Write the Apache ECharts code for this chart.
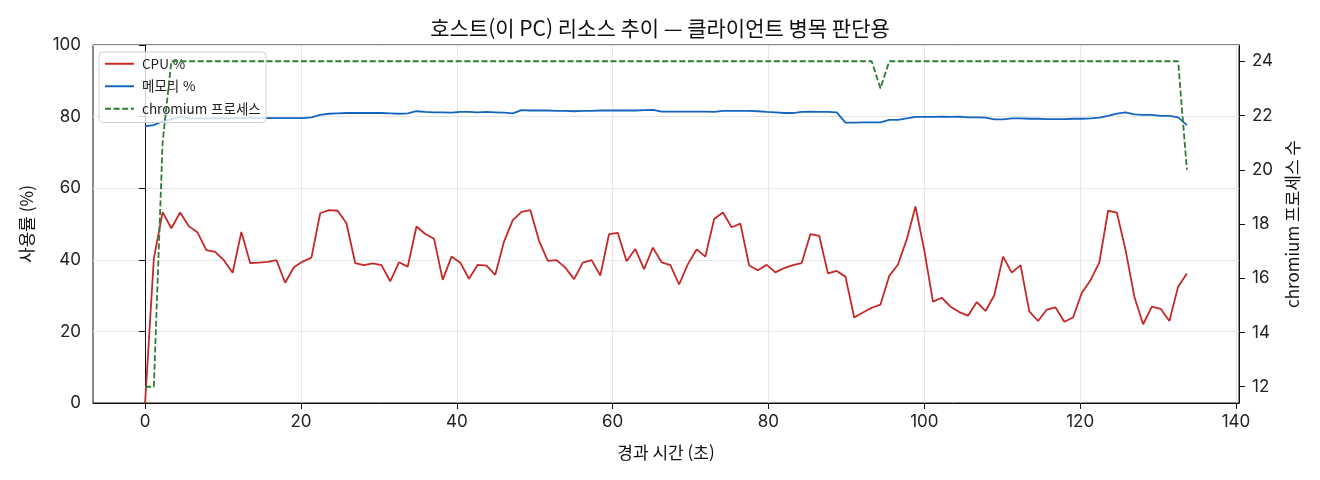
<!DOCTYPE html>
<html lang="ko">
<head>
<meta charset="utf-8">
<title>호스트(이 PC) 리소스 추이</title>
<script src="https://cdn.jsdelivr.net/npm/echarts@6/dist/echarts.min.js"></script>
<style>
  html, body { margin: 0; padding: 0; background: #fff; }
  #main { width: 1320px; height: 480px; }
</style>
</head>
<body>
<div id="main"></div>
<script>
// 샘플 간격(초) - 점 사이 간격에서 읽음
var SAMPLE_SEC = 1.1235;

var cpuPct = [
  0, 40.4, 53.3, 48.8, 53.2, 49.4, 47.6, 42.7, 42.2, 39.9,
  36.4, 47.8, 39.1, 39.2, 39.4, 39.9, 33.6, 37.9, 39.5, 40.6,
  53.0, 53.9, 53.7, 50.2, 39.1, 38.5, 39.0, 38.5, 34.0, 39.3,
  38.1, 49.3, 47.2, 45.9, 34.4, 40.9, 39.2, 34.7, 38.6, 38.4,
  35.8, 45.1, 51.1, 53.4, 53.9, 45.3, 39.7, 39.9, 37.8, 34.6,
  39.2, 39.9, 35.6, 47.2, 47.5, 39.6, 43.0, 37.4, 43.4, 39.3,
  38.5, 33.1, 38.8, 42.9, 40.9, 51.4, 53.2, 49.1, 50.1, 38.4,
  37.1, 38.6, 36.5, 37.7, 38.5, 39.1, 47.2, 46.7, 36.2, 36.9,
  35.3, 23.9, 25.3, 26.6, 27.5, 35.5, 38.7, 45.7, 54.9, 42.7,
  28.3, 29.4, 26.9, 25.4, 24.4, 28.2, 25.7, 30.1, 40.9, 36.4,
  38.5, 25.6, 22.9, 26.1, 26.7, 22.7, 23.9, 30.8, 34.3, 39.3,
  53.7, 53.2, 42.7, 29.7, 22.0, 26.9, 26.3, 22.9, 32.5, 36.2
];

var memPct = [
  77.3, 77.6, 78.7, 79.2, 79.9, 79.6, 79.5, 79.5, 79.6, 79.5,
  79.6, 79.6, 79.7, 79.6, 79.6, 79.6, 79.6, 79.6, 79.6, 79.8,
  80.5, 80.8, 80.9, 81.0, 81.0, 81.0, 81.0, 81.0, 80.9, 80.8,
  80.9, 81.5, 81.3, 81.2, 81.2, 81.1, 81.3, 81.3, 81.2, 81.3,
  81.2, 81.1, 80.9, 81.8, 81.7, 81.7, 81.7, 81.6, 81.6, 81.5,
  81.6, 81.6, 81.7, 81.7, 81.7, 81.7, 81.7, 81.8, 81.9, 81.4,
  81.4, 81.4, 81.4, 81.4, 81.4, 81.3, 81.6, 81.6, 81.6, 81.6,
  81.5, 81.3, 81.2, 81.0, 81.0, 81.3, 81.4, 81.3, 81.3, 81.2,
  78.3, 78.3, 78.4, 78.4, 78.4, 79.1, 79.1, 79.5, 79.9, 79.9,
  79.9, 80.0, 79.9, 80.0, 79.8, 79.8, 79.7, 79.2, 79.2, 79.5,
  79.5, 79.4, 79.4, 79.3, 79.3, 79.3, 79.4, 79.4, 79.5, 79.7,
  80.2, 80.8, 81.2, 80.6, 80.5, 80.5, 80.2, 80.2, 79.8, 77.6
];

var procCount = [
  12, 12, 21, 24, 24, 24, 24, 24, 24, 24,
  24, 24, 24, 24, 24, 24, 24, 24, 24, 24,
  24, 24, 24, 24, 24, 24, 24, 24, 24, 24,
  24, 24, 24, 24, 24, 24, 24, 24, 24, 24,
  24, 24, 24, 24, 24, 24, 24, 24, 24, 24,
  24, 24, 24, 24, 24, 24, 24, 24, 24, 24,
  24, 24, 24, 24, 24, 24, 24, 24, 24, 24,
  24, 24, 24, 24, 24, 24, 24, 24, 24, 24,
  24, 24, 24, 24, 23, 24, 24, 24, 24, 24,
  24, 24, 24, 24, 24, 24, 24, 24, 24, 24,
  24, 24, 24, 24, 24, 24, 24, 24, 24, 24,
  24, 24, 24, 24, 24, 24, 24, 24, 24, 20
];

var xTicks = [0, 20, 40, 60, 80, 100, 120, 140];
var procTicks = [12, 14, 16, 18, 20, 22, 24];

var FONT = '"Noto Sans CJK KR", "Noto Sans", sans-serif';
var NUM_FONT = 'Inter, "Noto Sans CJK KR", sans-serif';

function pairs(vals) {
  var out = [];
  for (var i = 0; i < vals.length; i++) {
    out.push([Math.round(i * SAMPLE_SEC * 1000) / 1000, vals[i]]);
  }
  return out;
}

var chart = echarts.init(document.getElementById('main'));

var tickLabel = { fontFamily: NUM_FONT, fontSize: 17, color: '#222' };
var axisName = { fontFamily: FONT, fontSize: 17, color: '#111' };

var option = {
  animation: false,
  backgroundColor: '#fff',
  textStyle: { fontFamily: FONT },
  title: {
    text: '호스트(이 PC) 리소스 추이 — 클라이언트 병목 판단용',
    left: 'center',
    top: 13,
    textStyle: { fontFamily: FONT, fontSize: 21, fontWeight: 'normal', color: '#111' }
  },
  legend: {
    orient: 'vertical',
    left: 99,
    top: 52,
    itemWidth: 29,
    itemHeight: 14,
    itemGap: 9,
    padding: [5, 6, 7, 5],
    backgroundColor: 'rgba(255,255,255,0.8)',
    borderColor: '#d0d0d0',
    borderWidth: 1,
    borderRadius: 4,
    itemStyle: { opacity: 0 },
    textStyle: { fontFamily: FONT, fontSize: 13.5, color: '#222', padding: [0, 0, 0, 3] },
    data: ['CPU %', '메모리 %', 'chromium 프로세스']
  },
  grid: {
    left: 93,
    right: 81,
    top: 45,
    bottom: 77,
    show: true,
    borderColor: '#111',
    borderWidth: 1
  },
  xAxis: {
    type: 'value',
    min: -6.685,
    max: 140.385,
    name: '경과 시간 (초)',
    nameLocation: 'middle',
    nameGap: 41,
    nameTextStyle: axisName,
    axisLine: { show: true, onZero: false, lineStyle: { color: '#111' } },
    axisTick: { show: true, length: 6, customValues: xTicks, lineStyle: { color: '#111' } },
    axisLabel: Object.assign({ customValues: xTicks, margin: 10 }, tickLabel),
    splitLine: { show: true, lineStyle: { color: '#e6e6e6', width: 1 } }
  },
  yAxis: [{
    type: 'value',
    min: 0,
    max: 100,
    interval: 20,
    name: '사용률 (%)',
    nameLocation: 'middle',
    nameGap: 58,
    nameTextStyle: axisName,
    axisLine: { show: true, lineStyle: { color: '#111' } },
    axisTick: { show: true, length: 6, lineStyle: { color: '#111' } },
    axisLabel: Object.assign({ margin: 12 }, tickLabel),
    splitLine: { show: true, lineStyle: { color: '#e6e6e6', width: 1 } }
  }, {
    type: 'value',
    position: 'right',
    min: 11.4,
    max: 24.6,
    name: 'chromium 프로세스 수',
    nameLocation: 'middle',
    nameGap: 44,
    nameRotate: 90,
    nameTextStyle: axisName,
    axisLine: { show: true, lineStyle: { color: '#111' } },
    axisTick: { show: true, length: 6, customValues: procTicks, lineStyle: { color: '#111' } },
    axisLabel: Object.assign({ customValues: procTicks, margin: 13 }, tickLabel),
    splitLine: { show: false }
  }],
  series: [{
    name: 'CPU %',
    type: 'line',
    yAxisIndex: 0,
    data: pairs(cpuPct),
    symbol: 'none',
    color: '#c62828',
    lineStyle: { width: 1.8, color: '#c62828' },
    z: 3
  }, {
    name: '메모리 %',
    type: 'line',
    yAxisIndex: 0,
    data: pairs(memPct),
    symbol: 'none',
    color: '#1565c0',
    lineStyle: { width: 1.8, color: '#1565c0' },
    z: 3
  }, {
    name: 'chromium 프로세스',
    type: 'line',
    yAxisIndex: 1,
    data: pairs(procCount),
    symbol: 'none',
    color: '#2e7d32',
    lineStyle: { width: 1.8, color: '#2e7d32', type: [6, 2.6] },
    z: 4
  }]
};

chart.setOption(option);
</script>
</body>
</html>
